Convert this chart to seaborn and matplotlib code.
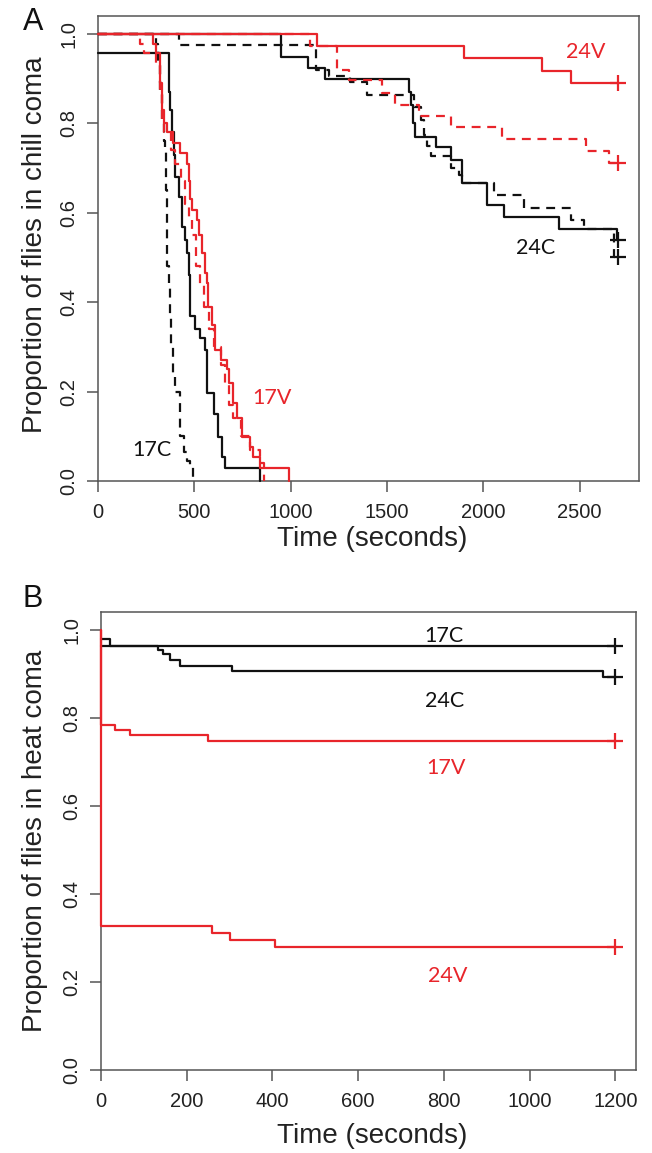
import matplotlib
matplotlib.use("Agg")
import matplotlib.pyplot as plt
import seaborn as sns

sns.set_theme(style="ticks")
plt.rcParams['font.family'] = ['Liberation Sans', 'DejaVu Sans']

RED = "#E8252B"
BLK = "#111111"
AXC = "#555555"

# ---------------- Panel A: chill coma ----------------
a_xticks = [0, 500, 1000, 1500, 2000, 2500]
a_xticklabels = ["0", "500", "1000", "1500", "2000", "2500"]
y_ticks = [0.0, 0.2, 0.4, 0.6, 0.8, 1.0]
y_ticklabels = ["0.0", "0.2", "0.4", "0.6", "0.8", "1.0"]

# 17V solid (red)
a17v_s_t = [0, 288, 300, 320, 331, 345, 357, 390, 426, 461, 470, 480, 487, 513, 525, 540, 556, 565,
            573, 590, 608, 640, 669, 680, 703, 720, 747, 790, 807, 842, 990]
a17v_s_p = [1.0, 0.978, 0.957, 0.89, 0.83, 0.80, 0.78, 0.757, 0.733, 0.71, 0.67, 0.63, 0.606, 0.584,
            0.55, 0.51, 0.465, 0.443, 0.39, 0.35, 0.293, 0.27, 0.25, 0.22, 0.174, 0.14, 0.099, 0.077,
            0.054, 0.028, 0.0]
# 17V dashed (red)
a17v_d_t = [0, 218, 240, 300, 320, 330, 345, 380, 400, 430, 450, 470, 490, 510, 530, 550, 575, 600,
            640, 660, 680, 700, 740, 790, 840, 860]
a17v_d_p = [1.0, 0.978, 0.957, 0.93, 0.87, 0.80, 0.78, 0.74, 0.71, 0.67, 0.62, 0.59, 0.55, 0.48, 0.44,
            0.39, 0.34, 0.30, 0.26, 0.22, 0.17, 0.14, 0.10, 0.07, 0.04, 0.0]
# 17C solid (black)
a17c_s_t = [0, 366, 372, 383, 392, 400, 418, 435, 450, 461, 470, 478, 505, 530, 556, 565, 600, 625,
            643, 660, 842]
a17c_s_p = [0.957, 0.87, 0.83, 0.78, 0.73, 0.68, 0.636, 0.569, 0.54, 0.51, 0.46, 0.368, 0.34, 0.32,
            0.293, 0.197, 0.15, 0.099, 0.054, 0.028, 0.0]
# 17C dashed (black)
a17c_d_t = [0, 300, 310, 320, 330, 340, 348, 352, 356, 360, 366, 372, 380, 390, 400, 426, 445, 461,
            478, 495]
a17c_d_p = [1.0, 0.978, 0.935, 0.87, 0.80, 0.76, 0.74, 0.65, 0.56, 0.48, 0.435, 0.37, 0.30, 0.24,
            0.20, 0.10, 0.065, 0.045, 0.032, 0.0]
# 24V solid (red)
a24v_s_t = [0, 1139, 1899, 2306, 2457]
a24v_s_p = [1.0, 0.973, 0.946, 0.916, 0.89]
# 24V dashed (red)
a24v_d_t = [0, 1100, 1240, 1305, 1474, 1543, 1665, 1830, 2098, 2531, 2652]
a24v_d_p = [1.0, 0.973, 0.92, 0.897, 0.867, 0.841, 0.817, 0.791, 0.764, 0.737, 0.711]
# 24C solid (black)
a24c_s_t = [0, 950, 1091, 1178, 1613, 1625, 1635, 1645, 1752, 1830, 1890, 2020, 2107, 2392, 2692]
a24c_s_p = [1.0, 0.949, 0.923, 0.90, 0.87, 0.84, 0.80, 0.770, 0.746, 0.718, 0.667, 0.617, 0.591,
            0.563, 0.539]
# 24C dashed (black)
a24c_d_t = [0, 420, 1130, 1200, 1310, 1397, 1640, 1675, 1692, 1710, 1727, 1830, 1872, 1890, 2055,
            2210, 2453, 2522, 2677]
a24c_d_p = [1.0, 0.975, 0.92, 0.905, 0.893, 0.864, 0.837, 0.808, 0.774, 0.75, 0.726, 0.70, 0.685,
            0.667, 0.64, 0.611, 0.584, 0.563, 0.50]
a_end = 2700

# ---------------- Panel B: heat coma ----------------
b_xticks = [0, 200, 400, 600, 800, 1000, 1200]
b_xticklabels = ["0", "200", "400", "600", "800", "1000", "1200"]
b17c_t = [0, 21]
b17c_p = [0.978, 0.963]
b24c_t = [0, 134, 145, 161, 184, 305, 1170]
b24c_p = [0.963, 0.954, 0.945, 0.931, 0.917, 0.906, 0.893]
b17v_t = [0, 0, 33, 68, 250]
b17v_p = [1.0, 0.783, 0.772, 0.761, 0.747]
b24v_t = [0, 0, 259, 302, 406]
b24v_p = [1.0, 0.328, 0.311, 0.295, 0.279]
b_end = 1200

DASH = (0, (4, 3))


def km(ax, t, p, color, ls, end=None):
    tt = list(t)
    pp = list(p)
    if end is not None:
        tt.append(end)
        pp.append(p[-1])
    sns.lineplot(x=tt, y=pp, ax=ax, color=color, linestyle=ls, drawstyle='steps-post',
                 estimator=None, sort=False, linewidth=1.6, clip_on=False, zorder=3)
    if end is not None:
        ax.plot([end], [p[-1]], marker='+', ms=12, mew=1.6, color=color, clip_on=False,
                zorder=4, linestyle='none')


def style_axes(ax, xmax, xticks, xlabels):
    ax.set_xlim(0, xmax * 1.04)
    ax.set_ylim(0, 1.04)
    ax.set_xticks(xticks)
    ax.set_xticklabels(xlabels)
    ax.set_yticks(y_ticks)
    ax.set_yticklabels(y_ticklabels, rotation=90, va='center')
    for s in ax.spines.values():
        s.set_visible(True)
        s.set_color(AXC)
        s.set_linewidth(1.1)
    ax.tick_params(axis='both', direction='out', length=8, width=1.1, color=AXC,
                   labelsize=14.5, labelcolor='#222222')
    ax.tick_params(axis='x', pad=8)
    ax.tick_params(axis='y', pad=6)
    ax.set_xlabel("")
    ax.set_ylabel("")
    ax.grid(False)


fig = plt.figure(figsize=(6.52, 11.53), dpi=100)
axA = fig.add_axes([98 / 652, 1 - 481 / 1153, 541 / 652, 465 / 1153])
axB = fig.add_axes([101 / 652, 1 - 1070 / 1153, 535 / 652, 458 / 1153])

# Panel A curves
km(axA, a24c_d_t, a24c_d_p, BLK, DASH, a_end)
km(axA, a24c_s_t, a24c_s_p, BLK, '-', a_end)
km(axA, a24v_d_t, a24v_d_p, RED, DASH, a_end)
km(axA, a24v_s_t, a24v_s_p, RED, '-', a_end)
km(axA, a17c_d_t, a17c_d_p, BLK, DASH)
km(axA, a17c_s_t, a17c_s_p, BLK, '-')
km(axA, a17v_d_t, a17v_d_p, RED, DASH)
km(axA, a17v_s_t, a17v_s_p, RED, '-')
style_axes(axA, a_end, a_xticks, a_xticklabels)

lab_font = ['Lato', 'DejaVu Sans']
axA.text(2531, 0.96, "24V", color=RED, fontsize=15.5, ha='center', va='center', family=lab_font)
axA.text(2271, 0.52, "24C", color=BLK, fontsize=15.5, ha='center', va='center', family=lab_font)
axA.text(903, 0.185, "17V", color=RED, fontsize=15.5, ha='center', va='center', family=lab_font)
axA.text(279, 0.069, "17C", color=BLK, fontsize=15.5, ha='center', va='center', family=lab_font)

# Panel B curves
km(axB, b17c_t, b17c_p, BLK, '-', b_end)
km(axB, b24c_t, b24c_p, BLK, '-', b_end)
km(axB, b17v_t, b17v_p, RED, '-', b_end)
km(axB, b24v_t, b24v_p, RED, '-', b_end)
style_axes(axB, b_end, b_xticks, b_xticklabels)

axB.text(801, 0.986, "17C", color=BLK, fontsize=15.5, ha='center', va='center', family=lab_font)
axB.text(801, 0.839, "24C", color=BLK, fontsize=15.5, ha='center', va='center', family=lab_font)
axB.text(805, 0.686, "17V", color=RED, fontsize=15.5, ha='center', va='center', family=lab_font)
axB.text(809, 0.214, "24V", color=RED, fontsize=15.5, ha='center', va='center', family=lab_font)

# Axis titles and panel letters
fig.text(35 / 652, 1 - 245 / 1153, "Proportion of flies in chill coma", rotation=90,
         ha='center', va='center', fontsize=20, color='#222222')
fig.text(372 / 652, 1 - 539 / 1153, "Time (seconds)", ha='center', va='center',
         fontsize=20, color='#222222')
fig.text(35 / 652, 1 - 841 / 1153, "Proportion of flies in heat coma", rotation=90,
         ha='center', va='center', fontsize=20, color='#222222')
fig.text(372 / 652, 1 - 1136 / 1153, "Time (seconds)", ha='center', va='center',
         fontsize=20, color='#222222')
fig.text(33 / 652, 1 - 22 / 1153, "A", ha='center', va='center', fontsize=22, color='#111111')
fig.text(33 / 652, 1 - 599 / 1153, "B", ha='center', va='center', fontsize=22, color='#111111')

fig.savefig("out.png", dpi=100)
